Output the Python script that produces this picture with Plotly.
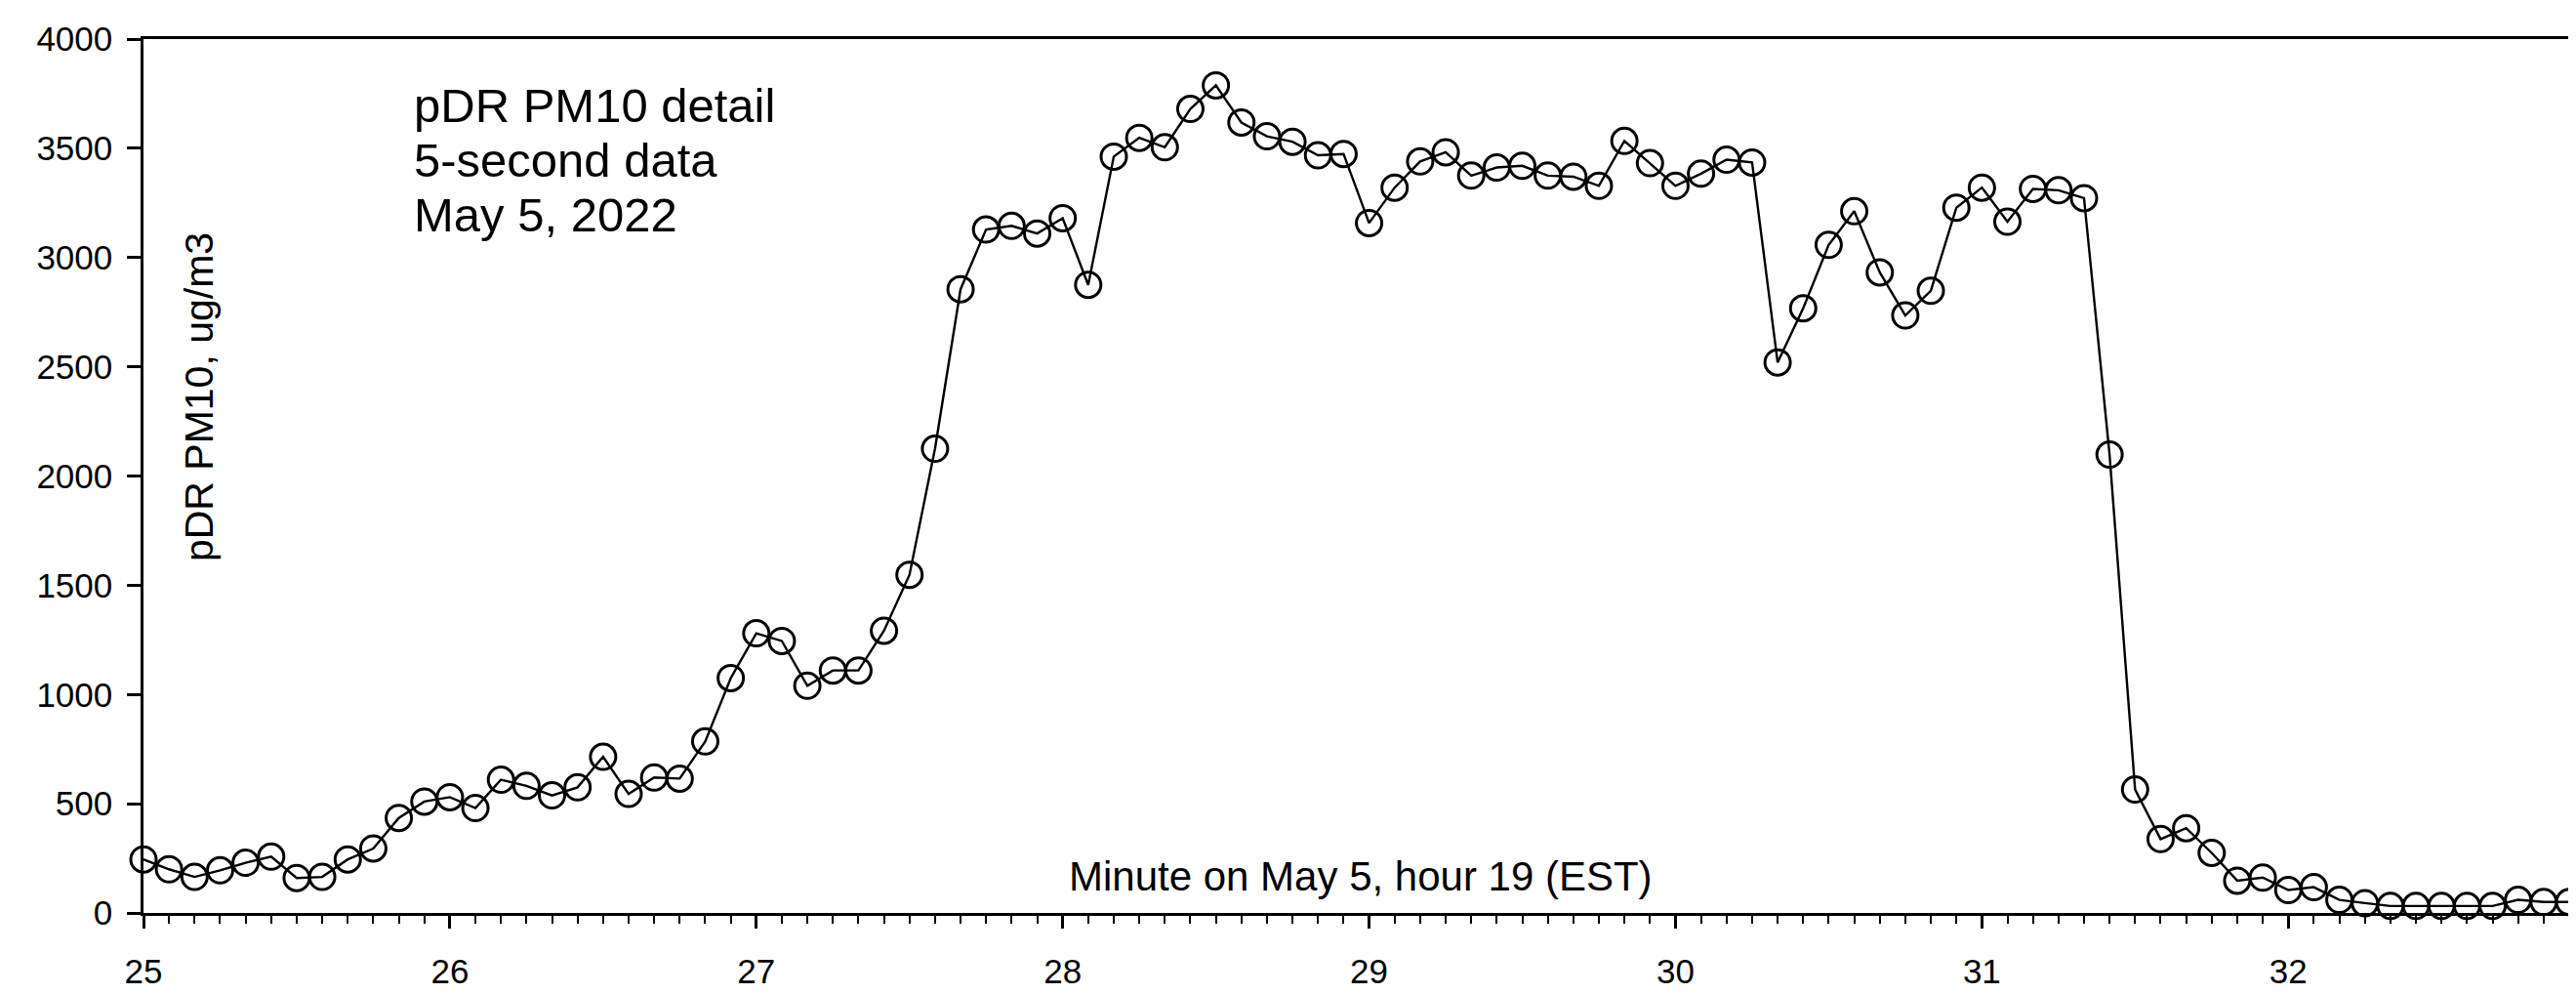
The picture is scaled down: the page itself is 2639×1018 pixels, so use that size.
import plotly.graph_objects as go

# Minute within hour 19 (5-second samples)
minutes = [
    25.0000, 25.0833, 25.1667, 25.2500, 25.3333, 25.4167, 25.5000, 25.5833, 25.6667, 25.7500, 25.8333, 25.9167,
    26.0000, 26.0833, 26.1667, 26.2500, 26.3333, 26.4167, 26.5000, 26.5833, 26.6667, 26.7500, 26.8333, 26.9167,
    27.0000, 27.0833, 27.1667, 27.2500, 27.3333, 27.4167, 27.5000, 27.5833, 27.6667, 27.7500, 27.8333, 27.9167,
    28.0000, 28.0833, 28.1667, 28.2500, 28.3333, 28.4167, 28.5000, 28.5833, 28.6667, 28.7500, 28.8333, 28.9167,
    29.0000, 29.0833, 29.1667, 29.2500, 29.3333, 29.4167, 29.5000, 29.5833, 29.6667, 29.7500, 29.8333, 29.9167,
    30.0000, 30.0833, 30.1667, 30.2500, 30.3333, 30.4167, 30.5000, 30.5833, 30.6667, 30.7500, 30.8333, 30.9167,
    31.0000, 31.0833, 31.1667, 31.2500, 31.3333, 31.4167, 31.5000, 31.5833, 31.6667, 31.7500, 31.8333, 31.9167,
    32.0000, 32.0833, 32.1667, 32.2500, 32.3333, 32.4167, 32.5000, 32.5833, 32.6667, 32.7500, 32.8333, 32.9167,
]

# pDR PM10, ug/m3
pm10 = [
    245, 200, 165, 195, 230, 258, 160, 165, 245, 295, 435, 510,
    530, 480, 610, 582, 538, 575, 715, 545, 620, 615, 785, 1075,
    1280, 1245, 1040, 1110, 1110, 1292, 1548, 2125, 2855, 3128, 3145, 3110,
    3180, 2875, 3462, 3548, 3505, 3680, 3788, 3618, 3555, 3530, 3468, 3474,
    3158, 3320, 3440, 3482, 3375, 3412, 3420, 3375, 3370, 3328, 3534, 3432,
    3328, 3384, 3448, 3435, 2520, 2768, 3058, 3212, 2932, 2735, 2848, 3228,
    3320, 3164, 3314, 3308, 3272, 2098, 565, 338, 388, 275, 148, 162,
    105, 118, 60, 45, 32, 32, 32, 32, 32, 60, 50, 50,
]

y_ticks = [0, 500, 1000, 1500, 2000, 2500, 3000, 3500, 4000]
x_ticks = [25, 26, 27, 28, 29, 30, 31, 32]

FONT = "Liberation Sans, Arial, sans-serif"

fig = go.Figure()
fig.add_trace(go.Scatter(
    x=minutes, y=pm10,
    mode="lines+markers",
    line=dict(color="black", width=2.4),
    marker=dict(symbol="circle-open", size=26, color="black", line=dict(width=3)),
    cliponaxis=False,
    showlegend=False,
))

fig.update_layout(
    width=2639, height=1018,
    paper_bgcolor="white", plot_bgcolor="white",
    margin=dict(l=139, r=12, t=31, b=68),
    font=dict(family=FONT, color="black"),
    xaxis=dict(
        range=[25, 32.9167],
        tickmode="array", tickvals=x_ticks, ticktext=[str(v) for v in x_ticks],
        ticks="outside", ticklen=13, tickwidth=2.5, tickcolor="black",
        minor=dict(dtick=1/12, tick0=25, ticks="outside", ticklen=8, tickwidth=2, tickcolor="black", showgrid=False),
        showline=True, linecolor="black", linewidth=2.5, mirror=True,
        showgrid=False, zeroline=False,
        tickfont=dict(size=35, family=FONT, color="black"),
        ticklabelstandoff=14,
    ),
    yaxis=dict(
        range=[0, 4000],
        tickmode="array", tickvals=y_ticks, ticktext=[str(v) for v in y_ticks],
        ticks="outside", ticklen=14, tickwidth=2.5, tickcolor="black",
        showline=True, linecolor="black", linewidth=2.5, mirror=True,
        showgrid=False, zeroline=False,
        tickfont=dict(size=35, family=FONT, color="black"),
        ticklabelstandoff=8,
    ),
)

# text block
lines = ["pDR PM10 detail", "5-second data", "May 5, 2022"]
centers_px = [101, 158, 216]
for txt, cy in zip(lines, centers_px):
    fig.add_annotation(
        text=txt, xref="paper", yref="paper",
        x=(414 - 139) / 2488, y=(950 - cy) / 919,
        xanchor="left", yanchor="middle", showarrow=False,
        font=dict(size=49, family=FONT, color="black"),
    )

# y-axis title inside plot
fig.add_annotation(
    text="pDR PM10, ug/m3", xref="paper", yref="paper",
    x=(196 - 139) / 2488, y=(950 - 407) / 919,
    xanchor="center", yanchor="middle", textangle=-90, showarrow=False,
    font=dict(size=41, family=FONT, color="black"),
)

# x-axis title inside plot
fig.add_annotation(
    text="Minute on May 5, hour 19 (EST)", xref="paper", yref="paper",
    x=(1387.5 - 139) / 2488, y=(950 - 911) / 919,
    xanchor="center", yanchor="middle", showarrow=False,
    font=dict(size=42, family=FONT, color="black"),
)

fig.write_html("out.html")
